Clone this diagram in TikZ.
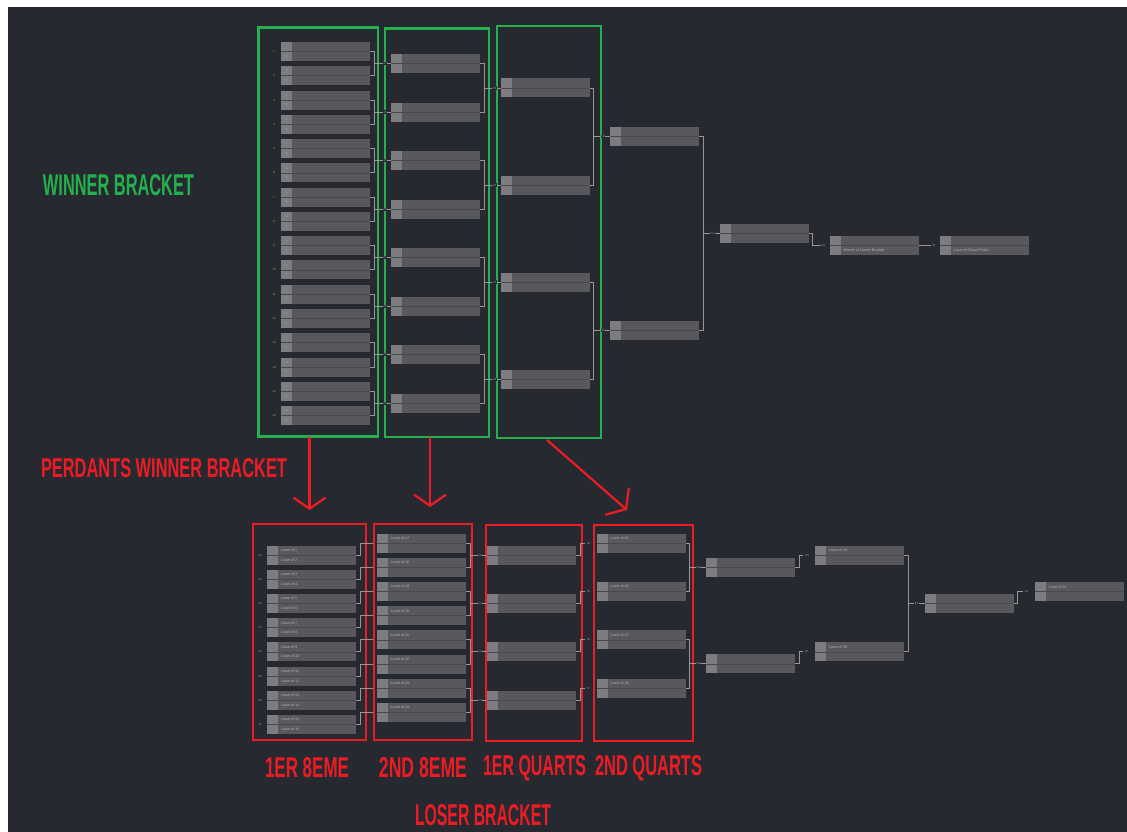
\documentclass[tikz,border=0pt]{standalone}
\usepackage{fontspec}
\usepackage{graphicx}
\setmainfont{Liberation Sans}
\usetikzlibrary{calc,arrows.meta}
\definecolor{bgc}{RGB}{39,41,49}
\definecolor{matchc}{RGB}{88,88,93}
\definecolor{seedc}{RGB}{124,124,129}
\definecolor{divc}{RGB}{72,72,77}
\definecolor{connc}{RGB}{150,150,156}
\definecolor{txtc}{RGB}{185,185,190}
\definecolor{grn}{RGB}{34,177,76}
\definecolor{rd}{RGB}{237,28,36}
\tikzset{
 match/.style={rectangle, fill=matchc, minimum width=89pt, minimum height=19pt, inner sep=0pt, outer sep=0pt,
   path picture={\fill[seedc] (path picture bounding box.north west) rectangle ([xshift=11pt]path picture bounding box.south west);
     \draw[divc, line width=0.6pt] (path picture bounding box.west) -- (path picture bounding box.east);}},
 conn/.style={draw=connc, line width=0.9pt},
 num/.style={text=txtc!75!bgc, font=\fontsize{3}{3}\selectfont, inner sep=0.6pt},
 numf/.style={num, fill=bgc},
 tag/.style={text=txtc, font=\fontsize{3.6}{3.6}\selectfont, inner sep=0pt, anchor=west},
 seed/.style={text=txtc!80!bgc, font=\fontsize{2.8}{2.8}\selectfont, inner sep=0pt},
 gbox/.style={draw=grn, line width=2.2pt, inner sep=0pt, outer sep=0pt, rectangle},
 rbox/.style={draw=rd, line width=2.2pt, inner sep=0pt, outer sep=0pt, rectangle},
 rarrow/.style={draw=rd, line width=2.2pt, -{Straight Barb[length=11pt,width=32pt]}},
 biglabel/.style={inner sep=0pt, outer sep=0pt, font=\bfseries},
}
\begin{document}
\begin{tikzpicture}[x=1pt,y=-1pt]
\useasboundingbox (0,0) rectangle (1127,832);
\fill[white] (0,0) rectangle (1127,832);
\fill[bgc] (8,7) rectangle (1127,832);

% ---------- frames ----------
\node[gbox, minimum width=119.5pt, minimum height=409pt] (g1) at (318.25,232) {};
\node[gbox, minimum width=104pt, minimum height=408.5pt] (g2) at (437,232.75) {};
\node[gbox, minimum width=104pt, minimum height=412pt] (g3) at (549,232) {};
\node[rbox, minimum width=113pt, minimum height=216pt] (r1) at (309.5,632) {};
\node[rbox, minimum width=98pt, minimum height=216pt] (r2) at (423,632) {};
\node[rbox, minimum width=96pt, minimum height=216pt] (r3) at (534,633) {};
\node[rbox, minimum width=99pt, minimum height=216pt] (r4) at (643.5,633) {};

% ---------- winner bracket ----------
\foreach \k/\sa/\sb in {0/1/32,1/16/17,2/8/25,3/9/24,4/4/29,5/13/20,6/5/28,7/12/21,8/2/31,9/15/18,10/7/26,11/10/23,12/3/30,13/14/19,14/6/27,15/11/22} {
  \pgfmathsetmacro\yy{51.5+24.27*\k}
  \pgfmathtruncatemacro\nn{\k+1}
  \node[match] (wa\k) at (325.5,\yy) {};
  \node[num] (wan\k) at (274,\yy) {\nn};
  \node[seed] (was\k) at ($(wa\k.west)+(5.5,-4.75)$) {\sa};
  \node[seed] (wat\k) at ($(wa\k.west)+(5.5,4.75)$) {\sb};
}
\foreach \k in {0,...,7} {
  \pgfmathsetmacro\yy{63.6+48.53*\k}
  \pgfmathtruncatemacro\a{2*\k}
  \pgfmathtruncatemacro\b{2*\k+1}
  \pgfmathtruncatemacro\nn{17+\k}
  \node[match] (wb\k) at (435.5,\yy) {};
  \draw[conn] (wa\a.east) -- ++(4,0) coordinate (wt\k) |- (wa\b.east);
  \draw[conn] (wb\k.west) -- (wb\k.west -| wt\k);
  \node[numf] (wbl\k) at ($(wb\k.west)+(-6,0)$) {\nn};
}
\foreach \k in {0,...,3} {
  \pgfmathsetmacro\yy{88+97.07*\k}
  \pgfmathtruncatemacro\a{2*\k}
  \pgfmathtruncatemacro\b{2*\k+1}
  \pgfmathtruncatemacro\nn{25+\k}
  \node[match] (wc\k) at (545,\yy) {};
  \draw[conn] (wb\a.east) -- ++(4,0) coordinate (wu\k) |- (wb\b.east);
  \draw[conn] (wc\k.west) -- (wc\k.west -| wu\k);
  \node[numf] (wcl\k) at ($(wc\k.west)+(-6,0)$) {\nn};
}
\foreach \k in {0,1} {
  \pgfmathsetmacro\yy{136.5+194.1*\k}
  \pgfmathtruncatemacro\a{2*\k}
  \pgfmathtruncatemacro\b{2*\k+1}
  \pgfmathtruncatemacro\nn{29+\k}
  \node[match] (wd\k) at (654.5,\yy) {};
  \draw[conn] (wc\a.east) -- ++(4,0) coordinate (wv\k) |- (wc\b.east);
  \draw[conn] (wd\k.west) -- (wd\k.west -| wv\k);
  \node[numf] (wdl\k) at ($(wd\k.west)+(-7,0)$) {\nn};
}
\node[match] (we) at (764,233.5) {};
\draw[conn] (wd0.east) -- ++(4,0) coordinate (ww) |- (wd1.east);
\draw[conn] (we.west) -- (we.west -| ww);
\node[numf] (wel) at ($(we.west)+(-7,0)$) {31};

\node[match] (gf) at (874,245) {};
\node[match] (gf2) at (984,245) {};
\draw[conn] (we.east) -- ++(4,0) |- ($(gf.west)+(-7,0)$);
\node[numf] (gfl) at ($(gf.west)+(-6,0)$) {32};
\draw[conn] (gf.east) -- ($(gf2.west)+(-8,0)$);
\node[numf] (gf2l) at ($(gf2.west)+(-6,0)$) {33};
\node[tag] (gft) at ($(gf.west)+(14,4.75)$) {Winner of Losers Bracket};
\node[tag] (gf2t) at ($(gf2.west)+(14,4.75)$) {Loser of Grand Finals};

% ---------- loser bracket ----------
\foreach \k in {0,...,7} {
  \pgfmathsetmacro\ya{555+24.2*\k}
  \pgfmathsetmacro\yb{543+24.2*\k}
  \pgfmathtruncatemacro\p{2*\k+1}
  \pgfmathtruncatemacro\q{2*\k+2}
  \pgfmathtruncatemacro\nn{34+\k}
  \pgfmathtruncatemacro\w{17+\k}
  \node[match] (la\k) at (311.5,\ya) {};
  \node[num] (lan\k) at (260,\ya) {\nn};
  \node[tag] (lat\k) at ($(la\k.west)+(14,-4.75)$) {Loser of \p};
  \node[tag] (lau\k) at ($(la\k.west)+(14,4.75)$) {Loser of \q};
  \node[match] (lb\k) at (421.5,\yb) {};
  \node[tag] (lbt\k) at ($(lb\k.west)+(14,-4.75)$) {Loser of \w};
  \draw[conn] (la\k.east) -- ++(4,0) |- ($(lb\k.west)+(-4,0)$);
}
\foreach \k in {0,...,3} {
  \pgfmathsetmacro\ya{555+48.4*\k}
  \pgfmathsetmacro\yb{543+48.4*\k}
  \pgfmathtruncatemacro\a{2*\k}
  \pgfmathtruncatemacro\b{2*\k+1}
  \pgfmathtruncatemacro\nn{50+\k}
  \pgfmathtruncatemacro\mm{54+\k}
  \pgfmathtruncatemacro\w{25+\k}
  \node[match] (lc\k) at (531.5,\ya) {};
  \draw[conn] (lb\a.east) -- ++(4,0) coordinate (lt\k) |- (lb\b.east);
  \draw[conn] (lc\k.west) -- (lc\k.west -| lt\k);
  \node[numf] (lcl\k) at ($(lc\k.west)+(-7,0)$) {\nn};
  \node[match] (ld\k) at (641,\yb) {};
  \node[tag] (ldt\k) at ($(ld\k.west)+(14,-4.75)$) {Loser of \w};
  \draw[conn] (lc\k.east) -- ++(4,0) |- ($(ld\k.west)+(-12,0)$);
  \node[numf] (ldl\k) at ($(ld\k.west)+(-8,0)$) {\mm};
}
\foreach \k in {0,1} {
  \pgfmathsetmacro\ya{567+96.8*\k}
  \pgfmathsetmacro\yb{555+96.8*\k}
  \pgfmathtruncatemacro\a{2*\k}
  \pgfmathtruncatemacro\b{2*\k+1}
  \pgfmathtruncatemacro\nn{58+\k}
  \pgfmathtruncatemacro\mm{60+\k}
  \pgfmathtruncatemacro\w{29+\k}
  \node[match] (le\k) at (750.5,\ya) {};
  \draw[conn] (ld\a.east) -- ++(4,0) coordinate (lu\k) |- (ld\b.east);
  \draw[conn] (le\k.west) -- (le\k.west -| lu\k);
  \node[numf] (lel\k) at ($(le\k.west)+(-8,0)$) {\nn};
  \node[match] (lf\k) at (859.5,\yb) {};
  \node[tag] (lft\k) at ($(lf\k.west)+(14,-4.75)$) {Loser of \w};
  \draw[conn] (le\k.east) -- ++(4,0) |- ($(lf\k.west)+(-12,0)$);
  \node[numf] (lfl\k) at ($(lf\k.west)+(-8,0)$) {\mm};
}
\node[match] (lg) at (969,603.5) {};
\draw[conn] (lf0.east) -- ++(4,0) coordinate (lv) |- (lf1.east);
\draw[conn] (lg.west) -- (lg.west -| lv);
\node[numf] (lgl) at ($(lg.west)+(-8,0)$) {62};
\node[match] (lh) at (1079,591.5) {};
\node[tag] (lht) at ($(lh.west)+(14,-4.75)$) {Loser of 31};
\draw[conn] (lg.east) -- ++(4,0) |- ($(lh.west)+(-12,0)$);
\node[numf] (lhl) at ($(lh.west)+(-8,0)$) {63};

% ---------- red arrows ----------
\coordinate (a1s) at (g1.south -| r1.north);
\draw[rarrow] (a1s) -- ([yshift=14pt]r1.north);
\coordinate (a2s) at ($(g2.south)!0.5!(g2.south -| r2.north)$);
\coordinate (a2e) at ([yshift=17pt]a2s |- r2.north);
\draw[rarrow] (a2s) -- (a2e);
\coordinate (a3s) at ([xshift=-2pt,yshift=-2pt]g3.south);
\coordinate (a3e) at ([xshift=-16.5pt,yshift=15pt]r4.north);
\draw[rarrow, -{Straight Barb[length=12pt,width=36pt]}] (a3s) -- (a3e);

% ---------- labels ----------
\node[biglabel, text=grn] (lwin) at (118.5,185.5) {\resizebox{151pt}{21pt}{WINNER BRACKET}};
\node[biglabel, text=rd] (lper) at (164,468.5) {\resizebox{246pt}{19pt}{PERDANTS WINNER BRACKET}};
\node[biglabel, text=rd] (l1) at (307,768) {\resizebox{84pt}{20pt}{1ER 8EME}};
\node[biglabel, text=rd] (l2) at (423,768) {\resizebox{88pt}{20pt}{2ND 8EME}};
\node[biglabel, text=rd] (l3) at (534.5,768) {\resizebox{103pt}{20pt}{1ER QUARTS}};
\node[biglabel, text=rd] (l4) at (648.5,768) {\resizebox{107pt}{20pt}{2ND QUARTS}};
\node[biglabel, text=rd] (llb) at (483,815.5) {\resizebox{136pt}{21pt}{LOSER BRACKET}};
\end{tikzpicture}
\end{document}
